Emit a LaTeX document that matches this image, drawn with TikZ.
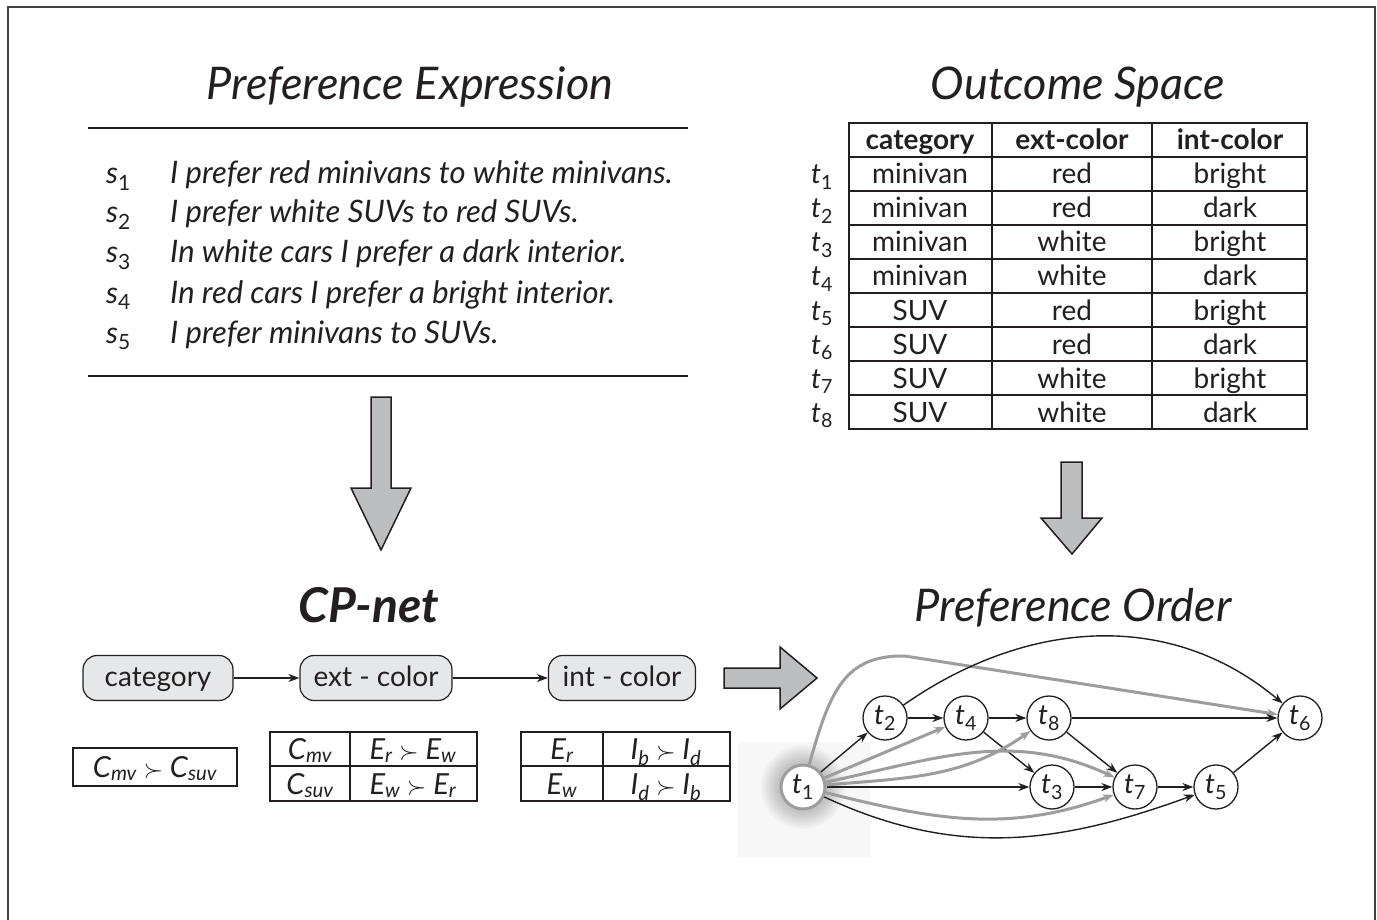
\documentclass[tikz,border=0pt]{standalone}
\usepackage{fontspec}
\setmainfont{Lato}
\usetikzlibrary{arrows.meta}
\definecolor{arrowgray}{HTML}{BCBEC0}
\definecolor{ink}{HTML}{231F20}
\definecolor{edgegray}{HTML}{9D9D9D}
\definecolor{boxgray}{HTML}{E6E7E8}
\newcommand\tlab[1]{\textit{t}\textsubscript{#1}}
\newcommand\slab[1]{\textit{s}\textsubscript{#1}}
\newcommand\ivar[2]{\textit{#1\textsubscript{#2}}}
\begin{document}
\begin{tikzpicture}[x=1pt,y=-1pt,
  every node/.style={inner sep=0pt, text=ink},
  title/.style={font=\fontsize{45}{52}\selectfont\itshape, anchor=base},
  stmt/.style={font=\fontsize{31}{36}\selectfont\itshape, anchor=base west},
  cell/.style={font=\fontsize{28}{32}\selectfont, anchor=base},
  hdr/.style={font=\fontsize{28}{32}\selectfont\bfseries, anchor=base},
  cpt/.style={font=\fontsize{29}{34}\selectfont\itshape, anchor=base},
  rowlab/.style={font=\fontsize{28}{32}\selectfont, anchor=base},
  bigarrow/.style={draw=ink, fill=arrowgray, line width=1.5pt, line join=miter},
  var/.style={draw=ink, fill=boxgray, rounded corners=14pt, minimum height=45pt, text height=21pt, text depth=5pt, line width=1.2pt, font=\fontsize{28}{32}\selectfont},
  tnode/.style={circle, draw=ink, fill=white, minimum size=44pt, line width=1.3pt, font=\fontsize{28}{32}\selectfont},
  blk/.style={-{Stealth[length=11pt,width=8pt]}, line width=1.4pt, draw=ink},
  gry/.style={-{Stealth[length=11pt,width=8pt]}, line width=3pt, draw=edgegray},
  tabline/.style={line width=1.2pt, draw=ink},
]
\useasboundingbox (0,0) rectangle (1377,920);
% frame
\draw[line width=2pt, draw=ink!85] (8,935) -- (8,7) -- (1375,7) -- (1375,935);

% ---------- Preference expression ----------
\node[title] (pe) at (410,100) {Preference Expression};
\draw[tabline] (88,128) -- (688,128);
\draw[tabline] (88,376) -- (688,376);
\foreach \i/\y/\t in {1/184/{I prefer red minivans to white minivans.},
                      2/223/{I prefer white SUVs to red SUVs.},
                      3/263/{In white cars I prefer a dark interior.},
                      4/303/{In red cars I prefer a bright interior.},
                      5/343/{I prefer minivans to SUVs.}}{
  \node[stmt, font=\fontsize{30}{34}\selectfont] (sl\i) at (106,\y) {\slab{\i}};
  \node[stmt] (st\i) at (170,\y) {\t};
}

% ---------- Outcome space ----------
\node[title] (os) at (1078,100) {Outcome Space};
\draw[tabline] (849,123) rectangle (1307,429);
\draw[tabline] (992,123) -- (992,429);
\draw[tabline] (1152,123) -- (1152,429);
\foreach \k in {0,...,7}{
  \draw[tabline] (849,157+34*\k) -- (1307,157+34*\k);
}
\node[hdr] (h1) at (920,150) {category};
\node[hdr] (h2) at (1072,150) {ext-color};
\node[hdr] (h3) at (1230,150) {int-color};
\foreach \i/\a/\b/\c in {1/minivan/red/bright, 2/minivan/red/dark,
  3/minivan/white/bright, 4/minivan/white/dark, 5/SUV/red/bright,
  6/SUV/red/dark, 7/SUV/white/bright, 8/SUV/white/dark}{
  \node[rowlab] (r\i) at (822,{184+34*(\i-1)}) {\tlab{\i}};
  \node[cell] (a\i) at (920,{184+34*(\i-1)}) {\a};
  \node[cell] (b\i) at (1072,{184+34*(\i-1)}) {\b};
  \node[cell] (c\i) at (1230,{184+34*(\i-1)}) {\c};
}

% ---------- big arrows ----------
\draw[bigarrow] (371,397) -- (391,397) -- (391,488) -- (411,488) -- (381,550) -- (351,488) -- (371,488) -- cycle;
\draw[bigarrow] (1061,462) -- (1082,462) -- (1082,518) -- (1102,518) -- (1072,554) -- (1041,518) -- (1061,518) -- cycle;
\draw[bigarrow] (724,668) -- (780,668) -- (780,647) -- (817,678) -- (780,709) -- (780,688) -- (724,688) -- cycle;

% ---------- CP-net ----------
\node[title, font=\fontsize{48}{54}\selectfont\bfseries\itshape] (cp) at (369,622) {CP-net};
\node[var, minimum width=150pt] (cat) at (158,678) {category};
\node[var, minimum width=152pt] (ext) at (376,678) {ext - color};
\node[var, minimum width=147pt] (int) at (622,678) {int - color};
\draw[blk] (cat) -- (ext);
\draw[blk] (ext) -- (int);

\draw[tabline] (73,748) rectangle (237,786);
\node[cpt] (cpt1) at (155,777) {\ivar{C}{mv} $\succ$ \ivar{C}{suv}};
\draw[tabline] (270,732) rectangle (477,801);
\draw[tabline] (270,766) -- (477,766);
\draw[tabline] (350,732) -- (350,801);
\node[cpt] (p11) at (310,759) {\ivar{C}{mv}};
\node[cpt] (p12) at (413,759) {\ivar{E}{r} $\succ$ \ivar{E}{w}};
\node[cpt] (p21) at (310,794) {\ivar{C}{suv}};
\node[cpt] (p22) at (413,794) {\ivar{E}{w} $\succ$ \ivar{E}{r}};
\draw[tabline] (521,732) rectangle (730,801);
\draw[tabline] (521,766) -- (730,766);
\draw[tabline] (603,732) -- (603,801);
\node[cpt] (q11) at (562,759) {\ivar{E}{r}};
\node[cpt] (q12) at (666,759) {\ivar{I}{b} $\succ$ \ivar{I}{d}};
\node[cpt] (q21) at (562,794) {\ivar{E}{w}};
\node[cpt] (q22) at (666,794) {\ivar{I}{d} $\succ$ \ivar{I}{b}};

% ---------- Preference order ----------
\node[title] (po) at (1073,621) {Preference Order};
\fill[black!3] (738,742) rectangle (870,857);
\foreach \r in {42,40,...,26}{
  \fill[black, opacity=0.022] (803,787) circle[radius=\r pt];
}
\node[tnode, draw=edgegray, line width=3pt] (t1) at (803,787) {\tlab{1}};
\node[tnode] (t2) at (885,718) {\tlab{2}};
\node[tnode] (t4) at (966,718) {\tlab{4}};
\node[tnode] (t8) at (1049,718) {\tlab{8}};
\node[tnode] (t6) at (1300,718) {\tlab{6}};
\node[tnode] (t3) at (1052,787) {\tlab{3}};
\node[tnode] (t7) at (1135,787) {\tlab{7}};
\node[tnode] (t5) at (1216,787) {\tlab{5}};

\coordinate (gpeak) at (905,656);
\draw[gry] (t1) .. controls (830,690) and (845,655) .. (gpeak) -- (t6);
\draw[blk] (t2) to[out=35,in=140] (t6);
\draw[blk] (t1) -- (t2);
\draw[blk] (t2) -- (t4);
\draw[blk] (t4) -- (t8);
\draw[blk] (t8) -- (t6);
\draw[blk] (t4) -- (t3);
\draw[blk] (t8) -- (t7);
\draw[blk] (t3) -- (t7);
\draw[blk] (t7) -- (t5);
\draw[blk] (t5) -- (t6);
\draw[blk] (t1) -- (t3);
\draw[blk] (t1) to[out=-25,in=200] (t5);
\draw[gry] (t1) -- (t4);
\draw[gry] (t1) to[out=5,in=215] (t8);
\draw[gry] (t1) to[out=12,in=155] (t7);
\draw[gry] (t1) to[out=-14,in=200] (t7);
\end{tikzpicture}
\end{document}
